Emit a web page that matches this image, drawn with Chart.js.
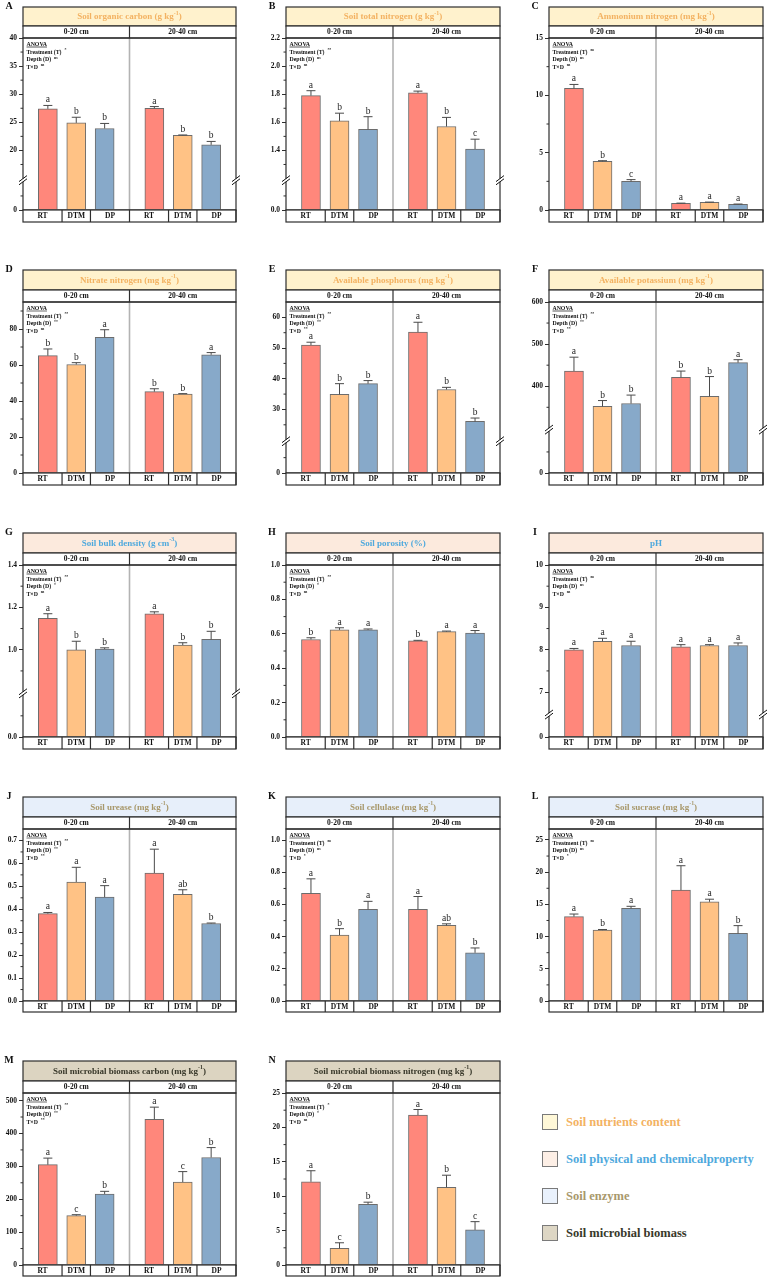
<!DOCTYPE html>
<html>
<head>
<meta charset="utf-8">
<script src="https://cdn.jsdelivr.net/npm/chart.js@4.4.1/dist/chart.umd.min.js"></script>
<style>
  html,body{margin:0;padding:0;background:#fff;}
  body{width:767px;height:1277px;position:relative;overflow:hidden;font-family:'Liberation Serif','Times New Roman',serif;}
  canvas{position:absolute;}
  .leg{position:absolute;left:542px;height:16px;display:flex;align-items:center;white-space:nowrap;}
  .leg .box{width:14px;height:14px;border:1px solid #7a7a7a;margin-right:8px;flex:none;}
  .leg .txt{font-weight:bold;font-size:12.5px;}
</style>
</head>
<body>
<script>
// ---------------- DATA ----------------
const treatments = ['RT', 'DTM', 'DP'];
const depthLayers = ['0-20 cm', '20-40 cm'];
const anovaTerms = ['Treatment (T)', 'Depth (D)', 'T\u00d7D'];
const groupNames = ['Soil nutrients content', 'Soil physical and chemicalproperty', 'Soil enzyme', 'Soil microbial biomass'];

// A Soil organic carbon
const socMean = [27.4, 24.9, 23.9, 27.5, 22.7, 21.0];
const socSD = [0.6, 1.0, 0.9, 0.3, 0.05, 0.6];
const socLetters = ['a', 'b', 'b', 'a', 'b', 'b'];
const socAnova = ['*', 'ns', 'ns'];
const socTicks = ['0', '20', '25', '30', '35', '40'];

// B Soil total nitrogen
const tnMean = [1.79, 1.61, 1.55, 1.81, 1.57, 1.41];
const tnSD = [0.035, 0.055, 0.09, 0.012, 0.065, 0.07];
const tnLetters = ['a', 'b', 'b', 'a', 'b', 'c'];
const tnAnova = ['**', 'ns', 'ns'];
const tnTicks = ['0.0', '1.4', '1.6', '1.8', '2.0', '2.2'];

// C Ammonium nitrogen
const nh4Mean = [10.6, 4.25, 2.5, 0.58, 0.67, 0.5];
const nh4SD = [0.35, 0.05, 0.15, 0.02, 0.02, 0.02];
const nh4Letters = ['a', 'b', 'c', 'a', 'a', 'a'];
const nh4Anova = ['ns', 'ns', 'ns'];
const nh4Ticks = ['0', '5', '10', '15'];

// D Nitrate nitrogen
const no3Mean = [65.2, 60.3, 75.4, 45.2, 43.9, 65.7];
const no3SD = [3.7, 1.0, 4.2, 1.6, 0.2, 1.2];
const no3Letters = ['b', 'b', 'a', 'b', 'b', 'a'];
const no3Anova = ['**', '**', 'ns'];
const no3Ticks = ['0', '20', '40', '60', '80'];

// E Available phosphorus
const apMean = [51.0, 34.9, 38.4, 55.2, 36.5, 26.1];
const apSD = [0.9, 3.5, 1.0, 3.2, 0.7, 1.1];
const apLetters = ['a', 'b', 'b', 'a', 'b', 'b'];
const apAnova = ['**', '**', '**'];
const apTicks = ['0', '30', '40', '50', '60'];

// F Available potassium
const akMean = [436, 352, 359, 421, 376, 456];
const akSD = [33, 14, 20, 15, 47, 7];
const akLetters = ['a', 'b', 'b', 'b', 'b', 'a'];
const akAnova = ['**', '**', '**'];
const akTicks = ['0', '400', '500', '600'];

// G Soil bulk density
const bdMean = [1.148, 0.999, 1.003, 1.17, 1.022, 1.049];
const bdSD = [0.022, 0.041, 0.006, 0.009, 0.011, 0.038];
const bdLetters = ['a', 'b', 'b', 'a', 'b', 'b'];
const bdAnova = ['**', '*', 'ns'];
const bdTicks = ['0.0', '1.0', '1.2', '1.4'];

// H Soil porosity
const poMean = [0.567, 0.623, 0.623, 0.559, 0.613, 0.604];
const poSD = [0.01, 0.012, 0.005, 0.003, 0.003, 0.015];
const poLetters = ['b', 'a', 'a', 'b', 'a', 'a'];
const poAnova = ['**', '*', 'ns'];
const poTicks = ['0.0', '0.2', '0.4', '0.6', '0.8', '1.0'];

// I pH
const phMean = [8.0, 8.2, 8.1, 8.07, 8.1, 8.1];
const phSD = [0.03, 0.07, 0.1, 0.05, 0.02, 0.06];
const phLetters = ['a', 'a', 'a', 'a', 'a', 'a'];
const phAnova = ['ns', 'ns', 'ns'];
const phTicks = ['0', '7', '8', '9', '10'];

// J Soil urease
const urMean = [0.381, 0.519, 0.453, 0.558, 0.465, 0.338];
const urSD = [0.005, 0.064, 0.05, 0.104, 0.02, 0.002];
const urLetters = ['a', 'a', 'a', 'a', 'ab', 'b'];
const urAnova = ['**', '**', '**'];
const urTicks = ['0.0', '0.1', '0.2', '0.3', '0.4', '0.5', '0.6', '0.7'];

// K Soil cellulase
const ceMean = [0.67, 0.41, 0.57, 0.57, 0.47, 0.30];
const ceSD = [0.09, 0.04, 0.05, 0.08, 0.01, 0.03];
const ceLetters = ['a', 'b', 'a', 'a', 'ab', 'b'];
const ceAnova = ['ns', 'ns', '*'];
const ceTicks = ['0.0', '0.2', '0.4', '0.6', '0.8', '1.0'];

// L Soil sucrase
const suMean = [13.1, 11.0, 14.4, 17.2, 15.4, 10.5];
const suSD = [0.4, 0.1, 0.3, 3.8, 0.4, 1.2];
const suLetters = ['a', 'b', 'a', 'a', 'a', 'b'];
const suAnova = ['ns', 'ns', '*'];
const suTicks = ['0', '5', '10', '15', '20', '25'];

// M Soil microbial biomass carbon
const mbcMean = [305, 150, 216, 443, 252, 327];
const mbcSD = [20, 3, 8, 37, 32, 30];
const mbcLetters = ['a', 'c', 'b', 'a', 'c', 'b'];
const mbcAnova = ['**', '**', '**'];
const mbcTicks = ['0', '100', '200', '300', '400', '500'];

// N Soil microbial biomass nitrogen
const mbnMean = [12.1, 2.43, 8.83, 21.8, 11.3, 5.1];
const mbnSD = [1.6, 0.8, 0.3, 0.8, 1.75, 1.2];
const mbnLetters = ['a', 'c', 'b', 'a', 'b', 'c'];
const mbnAnova = ['*', '*', 'ns'];
const mbnTicks = ['0', '5', '10', '15', '20', '25'];

// ---------------- PANELS ----------------
// yLow: axis value shown as "0" at the bottom of a broken axis
const panels = [
  {id:'A', title:'Soil organic carbon (g kg^{-1})', grp:0, mean:socMean, sd:socSD, letters:socLetters, anova:socAnova, ticks:socTicks, max:40, yLow:9.4},
  {id:'B', title:'Soil total nitrogen (g kg^{-1})', grp:0, mean:tnMean, sd:tnSD, letters:tnLetters, anova:tnAnova, ticks:tnTicks, max:2.2, yLow:0.976},
  {id:'C', title:'Ammonium nitrogen (mg kg^{-1})', grp:0, mean:nh4Mean, sd:nh4SD, letters:nh4Letters, anova:nh4Anova, ticks:nh4Ticks, max:15},
  {id:'D', title:'Nitrate nitrogen (mg kg^{-1})', grp:0, mean:no3Mean, sd:no3SD, letters:no3Letters, anova:no3Anova, ticks:no3Ticks, max:95},
  {id:'E', title:'Available phosphorus (mg kg^{-1})', grp:0, mean:apMean, sd:apSD, letters:apLetters, anova:apAnova, ticks:apTicks, max:65, yLow:9.3},
  {id:'F', title:'Available potassium (mg kg^{-1})', grp:0, mean:akMean, sd:akSD, letters:akLetters, anova:akAnova, ticks:akTicks, max:600, yLow:194},
  {id:'G', title:'Soil bulk density (g cm^{-3})', grp:1, mean:bdMean, sd:bdSD, letters:bdLetters, anova:bdAnova, ticks:bdTicks, max:1.4, yLow:0.588},
  {id:'H', title:'Soil porosity (%)', grp:1, mean:poMean, sd:poSD, letters:poLetters, anova:poAnova, ticks:poTicks, max:1.0},
  {id:'I', title:'pH', grp:1, mean:phMean, sd:phSD, letters:phLetters, anova:phAnova, ticks:phTicks, max:10, yLow:5.94},
  {id:'J', title:'Soil urease (mg kg^{-1})', grp:2, mean:urMean, sd:urSD, letters:urLetters, anova:urAnova, ticks:urTicks, max:0.75},
  {id:'K', title:'Soil cellulase (mg kg^{-1})', grp:2, mean:ceMean, sd:ceSD, letters:ceLetters, anova:ceAnova, ticks:ceTicks, max:1.07},
  {id:'L', title:'Soil sucrase (mg kg^{-1})', grp:2, mean:suMean, sd:suSD, letters:suLetters, anova:suAnova, ticks:suTicks, max:26.7},
  {id:'M', title:'Soil microbial biomass carbon (mg kg^{-1})', grp:3, mean:mbcMean, sd:mbcSD, letters:mbcLetters, anova:mbcAnova, ticks:mbcTicks, max:523},
  {id:'N', title:'Soil microbial biomass nitrogen (mg kg^{-1})', grp:3, mean:mbnMean, sd:mbnSD, letters:mbnLetters, anova:mbnAnova, ticks:mbnTicks, max:25}
];

// ---------------- LAYOUT / STYLE ----------------
const COLS = [[23, 236], [286, 500], [549, 763]];
const ROWS = [[7, 26, 38, 210, 222], [270, 290, 302, 473, 485], [533, 553, 565, 737, 749], [797, 817, 829, 1001, 1012], [1061, 1081, 1093, 1265, 1276]];
const GROUP_STYLE = [
  {bg:'#FFF2CD', fg:'#F3B262', leg:'#FFF8D8'},
  {bg:'#FCEADD', fg:'#4FA9DD', leg:'#FDEFE6'},
  {bg:'#E7EFFA', fg:'#A8986B', leg:'#E9F1FC'},
  {bg:'#DCD4C1', fg:'#38382A', leg:'#DDD6C4'}
];
const BAR_FILL = ['#FF877B', '#FFC285', '#87A9C9'];
const FONT = "'Liberation Serif','Times New Roman',serif";
const LINE = '#2e2e2e';
const HALF = 3.75, FIRST = 0.875;
const PAD_L = 42, PAD_R = 6;

function drawRich(ctx, text, x, y, size, align, bold) {
  const parts = []; const re = /\^\{([^}]*)\}/g; let last = 0, m;
  while ((m = re.exec(text))) {
    if (m.index > last) parts.push({t: text.slice(last, m.index), sup: false});
    parts.push({t: m[1], sup: true}); last = re.lastIndex;
  }
  if (last < text.length) parts.push({t: text.slice(last), sup: false});
  const w = bold === false ? '' : 'bold ';
  const fnt = s => `${w}${s}px ${FONT}`;
  let total = 0;
  parts.forEach(p => { ctx.font = fnt(p.sup ? size * 0.66 : size); p.w = ctx.measureText(p.t).width; total += p.w; });
  let cx = align === 'center' ? x - total / 2 : x;
  ctx.textAlign = 'left';
  parts.forEach(p => { ctx.font = fnt(p.sup ? size * 0.66 : size); ctx.fillText(p.t, cx, p.sup ? y - size * 0.4 : y); cx += p.w; });
  return total;
}

function buildPanel(p, idx) {
  const col = idx < 12 ? idx % 3 : idx - 12;
  const row = idx < 12 ? Math.floor(idx / 3) : 4;
  const [x0, x1] = COLS[col];
  const [hTop, hBot, pTop, pBot, cBot] = ROWS[row];
  const CL = x0 - PAD_L, CT = hTop - 12;
  const W = x1 - x0 + PAD_L + PAD_R, H = cBot - CT + 6;
  const cv = document.createElement('canvas');
  cv.width = W; cv.height = H;
  cv.style.left = CL + 'px'; cv.style.top = CT + 'px';
  cv.style.width = W + 'px'; cv.style.height = H + 'px';
  document.body.appendChild(cv);

  const broken = p.yLow !== undefined;
  const yMin = broken ? p.yLow : 0;
  const tickVals = p.ticks.map(t => { const v = parseFloat(t); return (broken && v === 0) ? p.yLow : v; });
  const xs = [];
  for (let h = 0; h < 2; h++) for (let i = 0; i < 3; i++) xs.push(h * HALF + FIRST + i);
  const st = GROUP_STYLE[p.grp];
  const hT = hTop - CT, hB = hBot - CT, cB = cBot - CT;

  const overlay = {
    id: 'overlay' + p.id,
    beforeDatasetsDraw(chart) {
      const {ctx, chartArea: ca, scales: {x}} = chart;
      const mx = x.getPixelForValue(HALF);
      ctx.save();
      ctx.strokeStyle = '#b3b3b3'; ctx.lineWidth = 1.6;
      ctx.beginPath(); ctx.moveTo(mx, ca.top); ctx.lineTo(mx, ca.bottom); ctx.stroke();
      ctx.restore();
    },
    afterDatasetsDraw(chart) {
      const {ctx, scales: {x, y}} = chart;
      ctx.save();
      for (let i = 0; i < 6; i++) {
        const px = x.getPixelForValue(xs[i]);
        const yt = y.getPixelForValue(p.mean[i]);
        const ye = y.getPixelForValue(p.mean[i] + p.sd[i]);
        ctx.strokeStyle = '#4a4a4a'; ctx.lineWidth = 1;
        ctx.beginPath();
        ctx.moveTo(px, yt); ctx.lineTo(px, ye);
        ctx.moveTo(px - 4.5, ye); ctx.lineTo(px + 4.5, ye);
        ctx.stroke();
        ctx.fillStyle = '#1e1e1e';
        ctx.font = `9.5px ${FONT}`; ctx.textAlign = 'center'; ctx.textBaseline = 'alphabetic';
        ctx.fillText(p.letters[i], px, ye - 3);
      }
      ctx.restore();
    },
    afterDraw(chart) {
      const {ctx, chartArea: ca, scales: {x, y}} = chart;
      const L = ca.left, R = ca.right, Wd = R - L;
      const mx = x.getPixelForValue(HALF);
      ctx.save();
      ctx.lineWidth = 1.2; ctx.strokeStyle = LINE;
      // panel letter
      ctx.fillStyle = '#111'; ctx.textBaseline = 'middle'; ctx.textAlign = 'center';
      ctx.font = `bold 10px ${FONT}`;
      ctx.fillText(p.id, L - 14, hT - 1);
      // header
      ctx.fillStyle = st.bg; ctx.fillRect(L, hT, Wd, hB - hT);
      ctx.strokeRect(L, hT, Wd, hB - hT);
      ctx.fillStyle = st.fg; ctx.textBaseline = 'middle';
      drawRich(ctx, p.title, (L + R) / 2, (hT + hB) / 2 + 0.5, 9, 'center');
      // depth row
      ctx.fillStyle = '#fff'; ctx.fillRect(L, hB, Wd, ca.top - hB);
      ctx.strokeRect(L, hB, Wd, ca.top - hB);
      ctx.beginPath(); ctx.moveTo(mx, hB); ctx.lineTo(mx, ca.top); ctx.stroke();
      ctx.fillStyle = '#111'; ctx.font = `bold 7.5px ${FONT}`; ctx.textAlign = 'center';
      ctx.fillText(depthLayers[0], (L + mx) / 2, (hB + ca.top) / 2 + 0.5);
      ctx.fillText(depthLayers[1], (mx + R) / 2, (hB + ca.top) / 2 + 0.5);
      // plot frame
      ctx.strokeRect(L, ca.top, Wd, ca.bottom - ca.top);
      // category row
      ctx.fillStyle = '#fff'; ctx.fillRect(L, ca.bottom, Wd, cB - ca.bottom);
      ctx.strokeRect(L, ca.bottom, Wd, cB - ca.bottom);
      ctx.fillStyle = '#111'; ctx.font = `bold 7.5px ${FONT}`;
      for (let h = 0; h < 2; h++) {
        const edges = [h * HALF, h * HALF + FIRST + 0.5, h * HALF + FIRST + 1.5, (h + 1) * HALF].map(v => x.getPixelForValue(v));
        ctx.beginPath();
        for (let k = 1; k < 4; k++) { ctx.moveTo(edges[k], ca.bottom); ctx.lineTo(edges[k], cB); }
        ctx.stroke();
        for (let k = 0; k < 3; k++) ctx.fillText(treatments[k], (edges[k] + edges[k + 1]) / 2, (ca.bottom + cB) / 2 + 0.5);
      }
      // minor ticks
      const major = tickVals.filter(v => !(broken && v === p.yLow));
      const step = major.length > 1 ? (major[1] - major[0]) / 2 : 1;
      ctx.lineWidth = 1; ctx.strokeStyle = LINE;
      const minor = [];
      if (!broken) {
        for (let v = step; v < p.max - step * 0.1; v += 2 * step) minor.push(v);
      } else {
        const brk = (p.yLow + major[0]) / 2;
        for (let v = major[0] + step; v < p.max - step * 0.1; v += 2 * step) minor.push(v);
        if (major[0] - step > brk + step * 0.5) minor.push(major[0] - step);
        for (let v = p.yLow + step; v < brk - step * 0.5; v += step) minor.push(v);
      }
      ctx.beginPath();
      minor.forEach(v => { const py = y.getPixelForValue(v); ctx.moveTo(L, py); ctx.lineTo(L - 2.5, py); });
      ctx.stroke();
      // axis breaks
      if (broken) {
        const brk = (p.yLow + major[0]) / 2;
        const pb = y.getPixelForValue(brk);
        [L, R].forEach(xx => {
          ctx.fillStyle = '#fff'; ctx.fillRect(xx - 1.5, pb - 1.5, 3, 3);
          ctx.strokeStyle = '#111'; ctx.lineWidth = 1;
          ctx.beginPath();
          [-1.6, 1.6].forEach(d => { ctx.moveTo(xx - 4, pb + d + 3); ctx.lineTo(xx + 4, pb + d - 3); });
          ctx.stroke();
        });
      }
      // ANOVA block
      ctx.fillStyle = '#111'; ctx.textBaseline = 'alphabetic';
      const ax = L + 3.5;
      ctx.font = `bold 5.8px ${FONT}`; ctx.textAlign = 'left';
      ctx.fillText('ANOVA', ax, ca.top + 8);
      const aw = ctx.measureText('ANOVA').width;
      ctx.lineWidth = 0.7; ctx.beginPath(); ctx.moveTo(ax, ca.top + 9); ctx.lineTo(ax + aw, ca.top + 9); ctx.stroke();
      for (let k = 0; k < 3; k++) {
        drawRich(ctx, anovaTerms[k] + '  ^{' + p.anova[k] + '}', ax, ca.top + 15.5 + 7.5 * k, 5.8, 'left');
      }
      ctx.restore();
    }
  };

  new Chart(cv, {
    type: 'bar',
    data: {
      datasets: [{
        data: p.mean.map((m, i) => ({x: xs[i], y: m})),
        backgroundColor: xs.map((_, i) => BAR_FILL[i % 3]),
        borderColor: '#6c6c6c', borderWidth: 1, borderSkipped: 'start',
        base: yMin, barThickness: 19
      }]
    },
    options: {
      responsive: false, animation: false, devicePixelRatio: 1,
      layout: {padding: {left: 0, right: PAD_R, top: pTop - CT, bottom: CT + H - pBot}},
      plugins: {legend: {display: false}, tooltip: {enabled: false}},
      scales: {
        x: {type: 'linear', min: 0, max: 2 * HALF, offset: false, display: false, grid: {offset: false}},
        y: {
          type: 'linear', min: yMin, max: p.max,
          afterFit: s => { s.width = PAD_L; },
          afterBuildTicks: s => { s.ticks = tickVals.map(v => ({value: v})); },
          ticks: {autoSkip: false, padding: 2, color: '#111', font: {family: FONT, weight: 'bold', size: 7.5},
                  callback: (v, i) => p.ticks[i]},
          grid: {drawOnChartArea: false, drawTicks: true, tickLength: 4, color: LINE, lineWidth: 1},
          border: {display: false}
        }
      }
    },
    plugins: [overlay]
  });
}

panels.forEach(buildPanel);

// legend
const LEG_TOP = [1115, 1152, 1189, 1226];
groupNames.forEach((name, i) => {
  const d = document.createElement('div');
  d.className = 'leg'; d.style.top = (LEG_TOP[i] - 1) + 'px';
  const b = document.createElement('span'); b.className = 'box'; b.style.background = GROUP_STYLE[i].leg;
  const t = document.createElement('span'); t.className = 'txt'; t.style.color = GROUP_STYLE[i].fg; t.textContent = name;
  d.appendChild(b); d.appendChild(t); document.body.appendChild(d);
});
</script>
</body>
</html>
